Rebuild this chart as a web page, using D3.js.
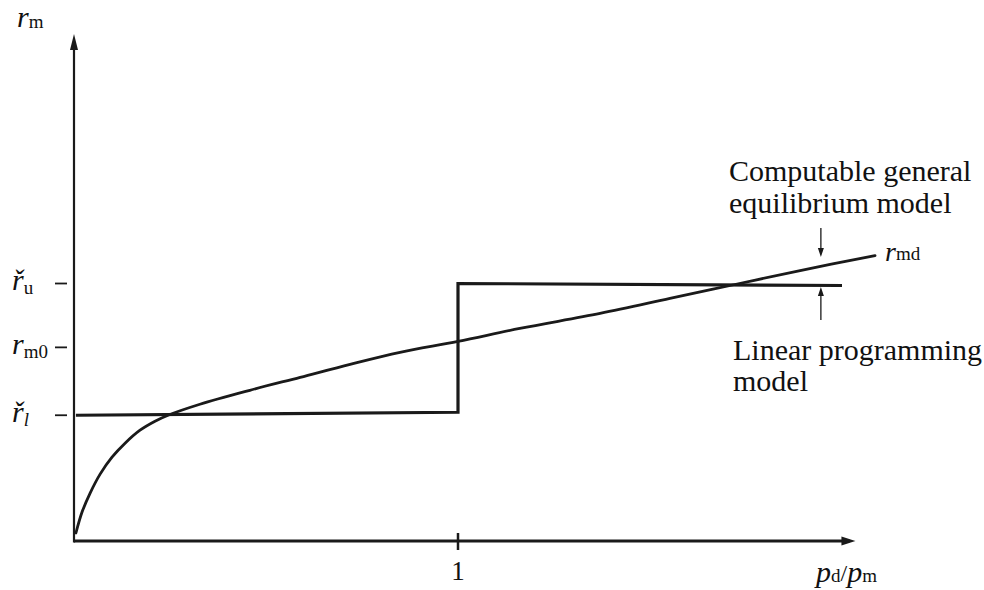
<!DOCTYPE html>
<html>
<head>
<meta charset="utf-8">
<script src="https://cdn.jsdelivr.net/npm/d3@7"></script>
<style>
  html, body { margin: 0; padding: 0; background: #fff; }
  svg { display: block; }
  text { font-family: "Liberation Serif", "Times New Roman", serif; fill: #111; }
</style>
</head>
<body>
<svg id="chart" width="984" height="590"></svg>
<script>
// Price ratio p_d/p_m along x, domestic-demand ratio r_m along y
const curveX = [0.005, 0.021, 0.042, 0.068, 0.099, 0.133, 0.172, 0.211, 0.245, 0.328, 0.458, 0.589, 0.719, 0.849, 1.0, 1.161, 1.370, 1.552, 1.721, 1.891, 2.086];
const curveY = [0.08, 0.29, 0.48, 0.67, 0.84, 0.98, 1.11, 1.20, 1.26, 1.37, 1.51, 1.64, 1.77, 1.89, 2.00, 2.13, 2.28, 2.43, 2.57, 2.71, 2.86];

// Linear programming response: a step at p_d/p_m = 1
const stepX = [0.005, 1.0, 1.0, 2.0];
const stepY = [1.26, 1.29, 2.58, 2.56];

// Levels marked on the vertical axis
const rTickValues = [1.26, 1.94, 2.58];
const rTickNames = [
  { main: "ř", sub: "l", subItalic: true },
  { main: "r", sub: "m0", subItalic: false },
  { main: "ř", sub: "u", subItalic: false }
];
const xTickValues = [1];
const xTickLabels = ["1"];

const svg = d3.select("#chart");
const x = d3.scaleLinear().domain([0, 2]).range([74, 842]);
const y = d3.scaleLinear().domain([0, 5.2]).range([541, 22]);

const ink = "#1a1a1a";

// Axes lines
svg.append("line").attr("x1", x(0)).attr("x2", x(2.02)).attr("y1", y(0)).attr("y2", y(0))
  .attr("stroke", ink).attr("stroke-width", 3.2);
svg.append("line").attr("x1", x(0)).attr("x2", x(0)).attr("y1", y(0) + 1.5).attr("y2", y(5.0))
  .attr("stroke", ink).attr("stroke-width", 2.2);

// Arrowheads on the axes
const yTip = y(5.08), xTip = x(2.035);
svg.append("path")
  .attr("d", `M${x(0)},${yTip} L${x(0) - 4},${yTip + 16} L${x(0) + 4},${yTip + 16} Z`)
  .attr("fill", ink);
svg.append("path")
  .attr("d", `M${xTip},${y(0)} L${xTip - 14},${y(0) - 4.5} L${xTip - 14},${y(0) + 4.5} Z`)
  .attr("fill", ink);

// Tick marks on the vertical axis (drawn left of the axis with a small gap)
svg.selectAll(".rtick").data(rTickValues).enter().append("line")
  .attr("x1", x(0) - 19).attr("x2", x(0) - 7)
  .attr("y1", d => y(d)).attr("y2", d => y(d))
  .attr("stroke", ink).attr("stroke-width", 1.8);

// Tick labels on the vertical axis
const rLab = svg.selectAll(".rlab").data(rTickValues).enter().append("text")
  .attr("x", 12).attr("y", d => y(d) + 7)
  .attr("font-size", 30);
rLab.append("tspan").attr("font-style", "italic").text((d, i) => rTickNames[i].main);
rLab.append("tspan").attr("font-size", 19).attr("dy", 4)
  .attr("font-style", (d, i) => rTickNames[i].subItalic ? "italic" : "normal")
  .text((d, i) => rTickNames[i].sub);

// Tick mark and label on the horizontal axis
svg.selectAll(".xtick").data(xTickValues).enter().append("line")
  .attr("x1", d => x(d)).attr("x2", d => x(d))
  .attr("y1", y(0) - 8).attr("y2", y(0) + 9)
  .attr("stroke", ink).attr("stroke-width", 2.5);
svg.selectAll(".xlab").data(xTickValues).enter().append("text")
  .attr("x", d => x(d)).attr("y", 580).attr("text-anchor", "middle")
  .attr("font-size", 27).text((d, i) => xTickLabels[i]);

// Axis titles
const yTitle = svg.append("text").attr("x", 17).attr("y", 27).attr("font-size", 30);
yTitle.append("tspan").attr("font-style", "italic").text("r");
yTitle.append("tspan").attr("font-size", 19).attr("dy", 1).text("m");

const xTitle = svg.append("text").attr("x", 816).attr("y", 582).attr("font-size", 30);
xTitle.append("tspan").attr("font-style", "italic").text("p");
xTitle.append("tspan").attr("font-size", 19).attr("dy", 0).text("d");
xTitle.append("tspan").attr("font-size", 24).attr("dy", -1).text("/");
xTitle.append("tspan").attr("font-style", "italic").attr("dy", 1).text("p");
xTitle.append("tspan").attr("font-size", 19).text("m");

// Linear programming step
const stepPts = stepX.map((v, i) => [v, stepY[i]]);
svg.append("path").datum(stepPts)
  .attr("d", d3.line().x(d => x(d[0])).y(d => y(d[1])))
  .attr("fill", "none").attr("stroke", ink).attr("stroke-width", 3.2)
  .attr("stroke-linejoin", "miter");

// Computable general equilibrium curve r_md
const curvePts = curveX.map((v, i) => [v, curveY[i]]);
svg.append("path").datum(curvePts)
  .attr("d", d3.line().x(d => x(d[0])).y(d => y(d[1])).curve(d3.curveCatmullRom.alpha(0.5)))
  .attr("fill", "none").attr("stroke", ink).attr("stroke-width", 2.8)
  .attr("stroke-linecap", "round");

// Curve label
const mdLab = svg.append("text").attr("x", 885).attr("y", 261).attr("font-size", 28);
mdLab.append("tspan").attr("font-style", "italic").text("r");
mdLab.append("tspan").attr("font-size", 19).attr("dy", -1).text("md");

// Pointer arrows to the two schedules
const arrowX = x(1.945);
function pointer(yFrom, yTo) {
  const dir = Math.sign(yTo - yFrom);
  svg.append("line").attr("x1", arrowX).attr("x2", arrowX)
    .attr("y1", yFrom).attr("y2", yTo - dir * 6)
    .attr("stroke", ink).attr("stroke-width", 1.3);
  svg.append("path")
    .attr("d", `M${arrowX},${yTo} L${arrowX - 3},${yTo - dir * 9} L${arrowX + 3},${yTo - dir * 9} Z`)
    .attr("fill", ink);
}
pointer(228, 257);
pointer(320, 287);

// Annotations
const notes = [
  { t: "Computable general", x: 729, y: 181 },
  { t: "equilibrium model", x: 729, y: 213 },
  { t: "Linear programming", x: 733, y: 360 },
  { t: "model", x: 733, y: 391 }
];
svg.selectAll(".note").data(notes).enter().append("text")
  .attr("x", d => d.x).attr("y", d => d.y).attr("font-size", 30)
  .text(d => d.t);
</script>
</body>
</html>
